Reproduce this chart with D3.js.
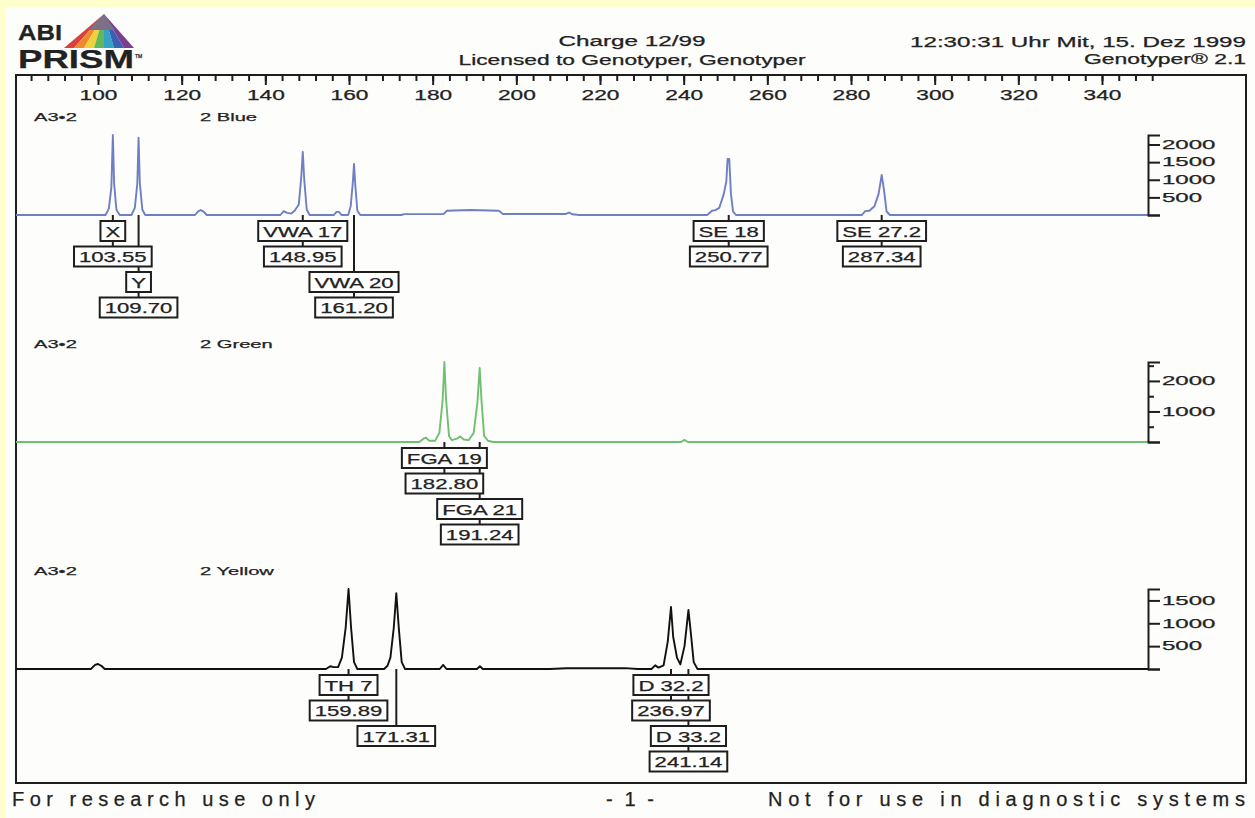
<!DOCTYPE html>
<html>
<head>
<meta charset="utf-8">
<script src="https://cdn.jsdelivr.net/npm/d3@7"></script>
<style>
  html, body { margin: 0; padding: 0; background: #ffffcc; }
  svg { display: block; }
  text { font-family: "Liberation Sans", Arial, sans-serif; fill: #222; stroke: #222; stroke-width: 0.25; }
</style>
</head>
<body>
<svg id="chart" width="1255" height="818"></svg>
<script>

/* ── data ── */
const sizeTickLabels = [100, 120, 140, 160, 180, 200, 220, 240, 260, 280, 300, 320, 340];
const sampleName = 'A3\u20222';
const dyeNames = ['2 Blue', '2 Green', '2 Yellow'];

/* trace points: [size in bp, height in RFU] */
const blueTrace = [
  [80.4, 0], [101.8, 0], [102.6, 180], [103.2, 800], [103.55, 2270], [103.85, 900], [104.4, 150], [105.2, 0],
  [108.0, 0], [108.8, 200], [109.4, 900], [109.70, 2190], [110.0, 900], [110.6, 150], [111.3, 0],
  [123.2, 0], [124.0, 110], [124.6, 140], [125.3, 90], [126.0, 0],
  [143.6, 0], [144.4, 110], [145.2, 60], [146.2, 40], [147.0, 120], [148.0, 300], [148.6, 1100], [148.95, 1790], [149.3, 1000], [149.9, 150], [150.6, 0],
  [156.4, 0], [157.0, 90], [157.6, 90], [158.2, 0], [159.8, 0], [160.4, 250], [160.9, 900], [161.20, 1450], [161.5, 850], [162.0, 120], [162.7, 0],
  [172.5, 0], [173.2, 25], [182.6, 25], [183.4, 120], [189.0, 140], [195.8, 120], [196.8, 30], [211.8, 30], [212.6, 70], [213.4, 20], [215.0, 0],
  [245.6, 0], [246.8, 120], [247.6, 140], [248.5, 200], [249.6, 600], [250.2, 950], [250.5, 1590], [250.9, 1590], [251.3, 600], [251.8, 100], [252.5, 0],
  [282.6, 0], [283.4, 110], [284.4, 120], [285.6, 250], [286.6, 600], [287.34, 1136], [287.9, 700], [288.5, 100], [289.3, 0],
  [351, 0]
];
const greenTrace = [
  [80.4, 0], [176.8, 0], [177.8, 110], [178.4, 140], [179.2, 40], [180.6, 40], [181.6, 300], [182.4, 1400], [182.80, 2620], [183.2, 1400], [183.9, 200], [184.6, 60],
  [185.8, 110], [186.6, 180], [187.4, 80], [188.6, 60], [189.8, 300], [190.7, 1300], [191.24, 2424], [191.7, 1300], [192.3, 200], [193.2, 40], [194.4, 0],
  [239.4, 0], [240.2, 70], [241.0, 0],
  [351, 0]
];
const yellowTrace = [
  [80.4, 0], [98.3, 0], [99.3, 90], [100.0, 110], [100.8, 70], [101.6, 0],
  [154.5, 0], [155.5, 60], [156.3, 40], [157.4, 40], [158.3, 250], [159.2, 900], [159.89, 1750], [160.5, 900], [161.2, 150], [162.0, 0],
  [168.4, 0], [169.2, 70], [169.9, 250], [170.7, 900], [171.31, 1660], [171.9, 900], [172.6, 150], [173.4, 0],
  [181.7, 0], [182.5, 90], [183.3, 0], [190.6, 0], [191.3, 60], [192.0, 0],
  [208.0, 0], [212.0, 18], [226.0, 18], [229.0, 0],
  [232.3, 0], [233.2, 80], [234.0, 30], [235.2, 80], [236.2, 600], [236.97, 1356], [237.5, 700], [238.4, 250], [239.2, 100], [240.2, 500], [241.14, 1290], [241.7, 800], [242.4, 150], [243.3, 0],
  [351, 0]
];

const blueRfuTicks   = [500, 1000, 1500, 2000];
const greenRfuTicks  = [500, 1000, 1500, 2000, 2500];
const greenRfuLabels = [1000, 2000];
const yellowRfuTicks = [500, 1000, 1500];

const blueSizes     = [103.55, 109.70, 148.95, 161.20, 250.77, 287.34];
const blueAlleles   = ['X', 'Y', 'VWA 17', 'VWA 20', 'SE 18', 'SE 27.2'];
const greenSizes    = [182.80, 191.24];
const greenAlleles  = ['FGA 19', 'FGA 21'];
const yellowSizes   = [159.89, 171.31, 236.97, 241.14];
const yellowAlleles = ['TH 7', null, 'D 32.2', 'D 33.2'];

/* ── layout ── */
const W = 1255, H = 818;
const frame = { left: 16, right: 1246, top: 75, bottom: 783 };
const axisX = 1148;
const peakRoom = 80;
const STRETCH = 1.62;   // the printout is widened horizontally

const svg = d3.select('#chart');

/* stretch text horizontally like the widened printout */
function widen(sel, k) {
  sel.each(function() {
    const w = this.getComputedTextLength();
    d3.select(this).attr('textLength', w * k).attr('lengthAdjust', 'spacingAndGlyphs');
  });
}
function fitWidth(sel, w, adjust) {
  sel.attr('textLength', w).attr('lengthAdjust', adjust || 'spacingAndGlyphs');
}

/* ── page ── */
svg.append('rect').attr('width', W).attr('height', H).attr('fill', '#ffffcc');
svg.append('rect').attr('x', 5).attr('y', 7).attr('width', W - 5).attr('height', H - 7).attr('fill', '#fdfdfb');

/* ── ABI PRISM logo ── */
const logo = svg.append('g').attr('class', 'logo');
const apex = [104, 14], baseL = [64, 48], baseR = [134, 48];
const spectrum = ['#d8413c', '#ee8a2c', '#f2d23c', '#63b85a', '#36a3c6', '#3a62b2', '#7b3f92'];
spectrum.forEach((c, i) => {
  const t0 = i / spectrum.length, t1 = (i + 1) / spectrum.length;
  const p0 = [baseL[0] + (baseR[0] - baseL[0]) * t0, baseL[1]];
  const p1 = [baseL[0] + (baseR[0] - baseL[0]) * t1, baseL[1]];
  logo.append('path').attr('d', `M${apex}L${p0}L${p1}Z`).attr('fill', c);
});
logo.append('path')
  .attr('d', `M${apex}L${apex[0] - 16},${apex[1] + 16}L${apex[0] + 11},${apex[1] + 16}Z`)
  .attr('fill', '#7d6f86');
logo.append('text').attr('x', 18).attr('y', 40)
  .attr('font-size', 22).attr('font-weight', 'bold').attr('fill', '#1a1a1a')
  .text('ABI').call(fitWidth, 44);
logo.append('text').attr('x', 18).attr('y', 68)
  .attr('font-size', 25).attr('font-weight', 'bold').attr('fill', '#1a1a1a')
  .text('PRISM').call(fitWidth, 116);
logo.append('text').attr('x', 135).attr('y', 58).attr('font-size', 5).text('TM');

/* ── header texts ── */
const header = svg.append('g').attr('font-size', 14);
header.append('text').attr('x', 632).attr('y', 46).attr('text-anchor', 'middle')
  .text('Charge  12/99').call(fitWidth, 147);
header.append('text').attr('x', 632).attr('y', 65).attr('text-anchor', 'middle')
  .text('Licensed to Genotyper, Genotyper').call(fitWidth, 347);
header.append('text').attr('x', 1246).attr('y', 47).attr('text-anchor', 'end')
  .text('12:30:31 Uhr Mit, 15. Dez 1999').call(fitWidth, 336);
header.append('text').attr('x', 1246).attr('y', 64).attr('text-anchor', 'end')
  .text('Genotyper\u00ae 2.1').call(fitWidth, 162);

/* ── frame ── */
svg.append('rect')
  .attr('x', frame.left).attr('y', frame.top)
  .attr('width', frame.right - frame.left).attr('height', frame.bottom - frame.top)
  .attr('fill', 'none').attr('stroke', '#1e1e1e').attr('stroke-width', 2);

/* ── top size axis ── */
const xScale = d3.scaleLinear().domain([100, 340]).range([98, 1102]);

const minorAxis = svg.append('g').attr('transform', `translate(0,${frame.top})`)
  .call(d3.axisBottom(xScale).tickValues(d3.range(84, 353, 4)).tickSize(6).tickFormat(''));
const majorAxis = svg.append('g').attr('transform', `translate(0,${frame.top})`)
  .call(d3.axisBottom(xScale).tickValues(sizeTickLabels).tickSize(10).tickPadding(6));
[minorAxis, majorAxis].forEach(a => {
  a.select('.domain').remove();
  a.selectAll('line').attr('stroke', '#1e1e1e').attr('stroke-width', 2);
});
majorAxis.selectAll('text')
  .attr('font-size', 14).attr('fill', '#222').attr('dy', null).attr('y', 25)
  .style('font-family', '"Liberation Sans", Arial, sans-serif')
  .call(widen, STRETCH);

/* ── panels ── */
const panels = [
  { dye: dyeNames[0], trace: blueTrace,   color: '#6f7fc4', base: 215, ticks: blueRfuTicks,   labels: blueRfuTicks,   sizes: blueSizes,   alleles: blueAlleles },
  { dye: dyeNames[1], trace: greenTrace,  color: '#6fc070', base: 442, ticks: greenRfuTicks,  labels: greenRfuLabels, sizes: greenSizes,  alleles: greenAlleles },
  { dye: dyeNames[2], trace: yellowTrace, color: '#111111', base: 669, ticks: yellowRfuTicks, labels: yellowRfuTicks, sizes: yellowSizes, alleles: yellowAlleles }
];

panels.forEach(p => {
  const g = svg.append('g').attr('class', 'panel');
  const rfuMax = d3.max(p.trace, d => d[1]);
  const yScale = d3.scaleLinear().domain([0, rfuMax]).range([p.base, p.base - peakRoom]);

  /* sample / dye titles */
  g.append('text').attr('x', 34).attr('y', p.base - 94).attr('font-size', 11.5)
    .text(sampleName).call(widen, 1.75);
  g.append('text').attr('x', 200).attr('y', p.base - 94).attr('font-size', 11.5)
    .text(p.dye).call(widen, 1.75);

  /* trace */
  const line = d3.line()
    .x(d => xScale(d[0]))
    .y(d => yScale(d[1]));
  g.append('path')
    .datum(p.trace)
    .attr('d', line)
    .attr('fill', 'none')
    .attr('stroke', p.color)
    .attr('stroke-width', 1.9)
    .attr('stroke-linejoin', 'round');

  /* right RFU axis */
  const rfuAxis = g.append('g').attr('transform', `translate(${axisX},0)`)
    .call(d3.axisRight(yScale)
      .tickValues([0].concat(p.ticks))
      .tickSizeOuter(0)
      .tickSize(12)
      .tickPadding(2)
      .tickFormat(d => p.labels.includes(d) ? d : ''));
  rfuAxis.select('.domain').attr('stroke', '#1e1e1e').attr('stroke-width', 2);
  rfuAxis.selectAll('.tick line')
    .attr('stroke', '#1e1e1e').attr('stroke-width', 2)
    .attr('x2', d => (d === 0 || p.labels.includes(d)) ? 12 : 6);
  rfuAxis.selectAll('.tick text')
    .attr('font-size', 12).attr('fill', '#222')
    .style('font-family', '"Liberation Sans", Arial, sans-serif')
    .filter(d => d !== 0 && p.labels.includes(d))
    .call(widen, 2.0);

  drawCalls(g, p);
});

/* ── allele call boxes under each peak ── */
function drawCalls(g, p) {
  const rowTop = r => p.base + 6 + r * 25.5;
  const boxH = 20, pad = 5;

  const probe = g.append('text').attr('font-size', 14);
  const textW = s => { probe.text(s); return probe.node().getComputedTextLength() * 1.58; };

  const calls = p.sizes.map((s, i) => {
    const labels = (p.alleles[i] ? [p.alleles[i]] : []).concat([s.toFixed(2)]);
    const widths = labels.map(textW);
    return { x: xScale(s), labels, widths, w: d3.max(widths) + 2 * pad };
  });
  probe.remove();

  /* stack a call below its neighbour when their boxes would collide */
  let prev = null;
  calls.forEach(c => {
    c.row = prev && (prev.x + prev.w / 2 + 2 > c.x - c.w / 2) ? prev.row + prev.labels.length : 0;
    prev = c;
  });

  const leaders = g.append('g');
  calls.forEach(c => {
    const endY = rowTop(c.row + c.labels.length - 1);
    leaders.append('line')
      .attr('x1', c.x).attr('x2', c.x)
      .attr('y1', p.base).attr('y2', endY)
      .attr('stroke', '#1e1e1e').attr('stroke-width', 2);
  });

  calls.forEach(c => {
    c.labels.forEach((lab, j) => {
      const top = rowTop(c.row + j);
      const bw = c.widths[j] + 2 * pad;
      g.append('rect')
        .attr('x', c.x - bw / 2).attr('y', top)
        .attr('width', bw).attr('height', boxH)
        .attr('fill', '#fff').attr('stroke', '#1e1e1e').attr('stroke-width', 2);
      g.append('text')
        .attr('x', c.x).attr('y', top + 15.5)
        .attr('text-anchor', 'middle').attr('font-size', 14)
        .text(lab)
        .call(fitWidth, c.widths[j]);
    });
  });
}

/* ── footer ── */
const footer = svg.append('g').attr('font-size', 20)
  .style('font-family', '"Liberation Sans Narrow", "Arial Narrow", "Liberation Sans", Arial, sans-serif');
footer.append('text').attr('x', 12).attr('y', 806).text('For research use only')
  .call(fitWidth, 303, 'spacing');
footer.append('text').attr('x', 630).attr('y', 806).attr('text-anchor', 'middle').text('- 1 -')
  .call(fitWidth, 48, 'spacing');
footer.append('text').attr('x', 1245).attr('y', 806).attr('text-anchor', 'end').text('Not for use in diagnostic systems')
  .call(fitWidth, 477, 'spacing');

</script>
</body>
</html>
